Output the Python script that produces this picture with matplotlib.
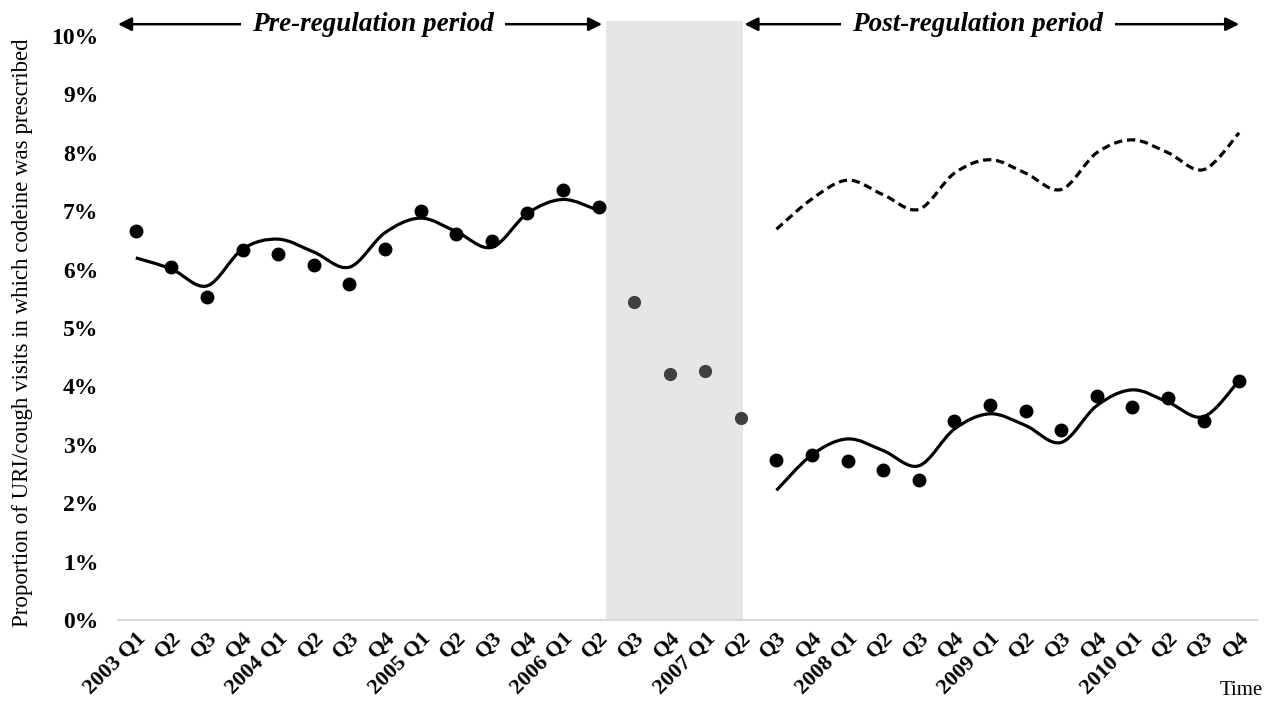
import matplotlib
matplotlib.use("Agg")
import matplotlib.pyplot as plt
from matplotlib.path import Path
from matplotlib.patches import PathPatch

# quarters 2003 Q1 .. 2010 Q4
tick_labels = []
for yr in range(2003, 2011):
    tick_labels += [f"{yr} Q1", "Q2", "Q3", "Q4"]

# observed proportions (%)
pre_obs = [6.66, 6.04, 5.53, 6.34, 6.27, 6.08, 5.75, 6.35,
           7.00, 6.61, 6.49, 6.97, 7.36, 7.07]
trans_obs = [5.45, 4.21, 4.26, 3.46]
post_obs = [2.74, 2.83, 2.72, 2.57, 2.40, 3.41, 3.68, 3.58,
            3.25, 3.84, 3.65, 3.80, 3.41, 4.09]

# fitted values (%)
pre_fit = [6.20, 6.01, 5.72, 6.35, 6.52, 6.30, 6.04, 6.63,
           6.88, 6.65, 6.38, 6.96, 7.20, 7.01]
post_fit = [2.22, 2.83, 3.10, 2.90, 2.64, 3.27, 3.53, 3.33,
            3.04, 3.67, 3.94, 3.73, 3.48, 4.10]
counterfactual = [6.69, 7.21, 7.53, 7.28, 7.03, 7.65, 7.88, 7.65,
                  7.37, 8.00, 8.22, 8.00, 7.71, 8.34]

x_pre = list(range(0, 14))
x_trans = list(range(14, 18))
x_post = list(range(18, 32))


def smooth_path(xs, ys):
    # Excel-style smoothed line: cubic bezier, catmull-rom control points
    pts = list(zip(xs, ys))
    n = len(pts)
    verts = [pts[0]]
    codes = [Path.MOVETO]
    for i in range(n - 1):
        p0 = pts[i - 1] if i > 0 else pts[i]
        p1 = pts[i]
        p2 = pts[i + 1]
        p3 = pts[i + 2] if i + 2 < n else pts[i + 1]
        c1 = (p1[0] + (p2[0] - p0[0]) / 6, p1[1] + (p2[1] - p0[1]) / 6)
        c2 = (p2[0] - (p3[0] - p1[0]) / 6, p2[1] - (p3[1] - p1[1]) / 6)
        verts += [c1, c2, p2]
        codes += [Path.CURVE4] * 3
    return Path(verts, codes)


plt.rcParams['font.family'] = ['Liberation Serif', 'DejaVu Serif']

fig = plt.figure(figsize=(12.69, 7.09), dpi=100)
ax = fig.add_axes([0.093, 0.1255, 0.8975, 0.8445])

ymax = 10.25
ax.set_xlim(-0.5, 31.5)
ax.set_ylim(0, ymax)

# transition shading
ax.axvspan(13.2, 17.05, ymin=0, ymax=1, color='#e6e6e6', lw=0, zorder=0)

for xs, ys, ls in [(x_pre, pre_fit, '-'), (x_post, post_fit, '-'),
                   (x_post, counterfactual, (0, (2.6, 1.5)))]:
    ax.add_patch(PathPatch(smooth_path(xs, ys), fill=False, edgecolor='black',
                           lw=2.3, linestyle=ls, capstyle='butt', zorder=2))

ax.plot(x_pre, pre_obs, 'o', color='black', ms=9, zorder=3)
ax.plot(x_post, post_obs, 'o', color='black', ms=9, zorder=3)
ax.plot(x_trans, trans_obs, 'o', color='#404040', ms=8.5, zorder=3)

ax.set_yticks(range(0, 11))
ax.set_yticklabels([f"{v}%" for v in range(0, 11)], fontsize=17, fontweight='bold')
ax.set_xticks(range(32))
ax.set_xticklabels(tick_labels, rotation=45, ha='right', rotation_mode='anchor',
                   fontsize=16, fontweight='bold')
ax.tick_params(axis='both', length=0)
ax.tick_params(axis='y', pad=14)
ax.tick_params(axis='x', pad=6)

for s in ['top', 'right', 'left']:
    ax.spines[s].set_visible(False)
ax.spines['bottom'].set_color('#d9d9d9')
ax.spines['bottom'].set_linewidth(1.5)

ax.set_ylabel("Proportion of URI/cough visits in which codeine was prescribed",
              fontsize=16.5)
ax.yaxis.set_label_coords(-0.075, 0.48)

# period arrows
ya = 10.2
for x0, x1, xt, label in [(-0.5, 13.1, 6.66, "Pre-regulation period"),
                          (17.1, 31.0, 23.66, "Post-regulation period")]:
    ax.annotate("", xy=(x0, ya), xytext=(x1, ya),
                arrowprops=dict(arrowstyle='<|-|>', color='black', lw=1.8,
                                mutation_scale=20, shrinkA=0, shrinkB=0))
    ax.text(xt, ya, label, ha='center', va='center', fontsize=19.5,
            fontweight='bold', style='italic',
            bbox=dict(facecolor='white', edgecolor='none', pad=8), zorder=5)

fig.text(0.978, 0.026, "Time", ha='center', va='center', fontsize=15)

plt.savefig('out.png', dpi=100)
